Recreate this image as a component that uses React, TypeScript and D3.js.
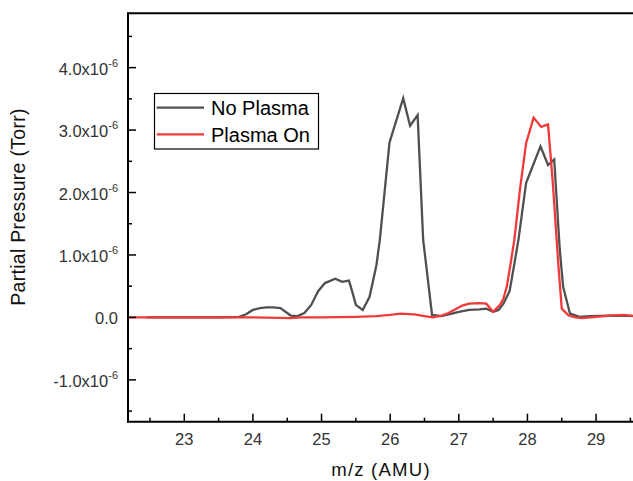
import React from "react";
import * as d3 from "d3";

// Mass-spectrometer partial pressure scans (pressure in units of 1e-6 Torr)
const massNoPlasma = [
  22.45, 23.0, 23.5, 23.8, 23.9, 24.0, 24.1, 24.2, 24.3, 24.4, 24.5, 24.55, 24.65, 24.75, 24.85,
  24.95, 25.05, 25.2, 25.3, 25.4, 25.45, 25.5, 25.6, 25.7, 25.8, 25.85, 25.99, 26.19, 26.29, 26.4,
  26.48, 26.61, 26.75, 26.9, 27.0, 27.15, 27.3, 27.4, 27.5, 27.58, 27.65, 27.74, 27.8, 27.87, 27.98,
  28.19, 28.3, 28.39, 28.47, 28.52, 28.62, 28.76, 28.9, 29.2, 29.7,
];
const pressureNoPlasma = [
  0, 0, 0, 0.01, 0.05, 0.12, 0.15, 0.16, 0.16, 0.15, 0.07, 0.03, 0.02, 0.07, 0.2,
  0.42, 0.55, 0.62, 0.57, 0.59, 0.4, 0.2, 0.12, 0.33, 0.84, 1.25, 2.8, 3.51, 3.07, 3.24,
  1.25, 0.04, 0.02, 0.06, 0.09, 0.12, 0.13, 0.14, 0.09, 0.12, 0.22, 0.42, 0.8, 1.25, 2.15,
  2.74, 2.44, 2.53, 1.1, 0.49, 0.06, 0.01, 0.02, 0.03, 0.02,
];

const massPlasmaOn = [
  22.0, 23.0, 24.0, 24.55, 24.7, 25.0, 25.5, 25.8, 26.0, 26.15, 26.35, 26.5, 26.62, 26.75, 26.85,
  26.95, 27.05, 27.15, 27.3, 27.4, 27.5, 27.6, 27.65, 27.7, 27.76, 27.81, 27.89, 27.98, 28.09, 28.2,
  28.3, 28.37, 28.45, 28.5, 28.6, 28.7, 28.8, 29.0, 29.2, 29.4, 29.7,
];
const pressurePlasmaOn = [
  0, 0, 0, -0.01, 0, 0, 0.01, 0.02, 0.04, 0.06, 0.05, 0.02, 0, 0.03, 0.07,
  0.13, 0.19, 0.22, 0.23, 0.22, 0.09, 0.2, 0.3, 0.5, 0.9, 1.25, 2.04, 2.79, 3.2, 3.05,
  3.09, 2.15, 0.85, 0.14, 0.03, 0, -0.01, 0.01, 0.03, 0.04, 0,
];

const seriesNames = ["No Plasma", "Plasma On"];
const seriesColors = ["#505050", "#f03a3a"];

const xMajorTicks = [23, 24, 25, 26, 27, 28, 29];
const xMinorTicks = [22.5, 23.5, 24.5, 25.5, 26.5, 27.5, 28.5, 29.5];
const yMajorTicks = [-1, 0, 1, 2, 3, 4];
const yMinorTicks = [-1.5, -0.5, 0.5, 1.5, 2.5, 3.5, 4.5];

const W = 633;
const H = 481;
const left = 128;
const top = 13.3;
const bottom = 421.7;
const right = 640;

export default function App() {
  const x = d3.scaleLinear().domain([22.18, 29.64]).range([left, right]);
  const y = d3.scaleLinear().domain([-1.67, 4.87]).range([bottom, top]);

  const line = d3
    .line<[number, number]>()
    .x((d) => x(d[0]))
    .y((d) => y(d[1]));

  const noPlasma = massNoPlasma.map((m, i) => [m, pressureNoPlasma[i]] as [number, number]);
  const plasmaOn = massPlasmaOn.map((m, i) => [m, pressurePlasmaOn[i]] as [number, number]);

  const font = "Arial, 'Liberation Sans', sans-serif";
  const tickColor = "#333";

  const fmtMantissa = (v: number) => (v === 0 ? "0.0" : `${v.toFixed(1)}x10`);

  return (
    <svg
      width={W}
      height={H}
      style={{ position: "absolute", left: 0, top: 0, background: "#fff" }}
      fontFamily={font}
    >
      <defs>
        <clipPath id="plotArea">
          <rect x={left} y={top} width={right - left} height={bottom - top} />
        </clipPath>
      </defs>

      {/* data lines */}
      <g clipPath="url(#plotArea)" fill="none" strokeWidth={2.3} strokeLinejoin="miter">
        <path d={line(noPlasma) || ""} stroke={seriesColors[0]} />
        <path d={line(plasmaOn) || ""} stroke={seriesColors[1]} />
      </g>

      {/* frame */}
      <g stroke="#000" strokeWidth={2} fill="none">
        <line x1={left} y1={top} x2={right} y2={top} />
        <line x1={left} y1={top - 1} x2={left} y2={bottom + 1} />
        <line x1={left - 1} y1={bottom} x2={right} y2={bottom} />
      </g>

      {/* ticks, pointing into the plot */}
      <g stroke="#000" strokeWidth={1.5}>
        {xMajorTicks.map((t) => (
          <line key={`xM${t}`} x1={x(t)} x2={x(t)} y1={bottom} y2={bottom - 8} />
        ))}
        {xMinorTicks.map((t) => (
          <line key={`xm${t}`} x1={x(t)} x2={x(t)} y1={bottom} y2={bottom - 4} />
        ))}
        {yMajorTicks.map((t) => (
          <line key={`yM${t}`} x1={left} x2={left + 8} y1={y(t)} y2={y(t)} />
        ))}
        {yMinorTicks.map((t) => (
          <line key={`ym${t}`} x1={left} x2={left + 4} y1={y(t)} y2={y(t)} />
        ))}
      </g>

      {/* x tick labels */}
      <g fontSize={16.5} fill={tickColor} textAnchor="middle">
        {xMajorTicks.map((t) => (
          <text key={`xl${t}`} x={x(t)} y={445}>
            {t}
          </text>
        ))}
      </g>

      {/* y tick labels */}
      <g fontSize={16.5} fill={tickColor} textAnchor="end">
        {yMajorTicks.map((t) => (
          <text key={`yl${t}`} x={118} y={y(t) + 7}>
            {fmtMantissa(t)}
            {t !== 0 && (
              <tspan fontSize={11} dy={-8}>
                -6
              </tspan>
            )}
          </text>
        ))}
      </g>

      {/* axis titles */}
      <text x={381} y={476} fontSize={18.6} fill="#111" textAnchor="middle" letterSpacing={1.2}>
        m/z (AMU)
      </text>
      <text
        transform={`translate(25,${207}) rotate(-90)`}
        fontSize={19.5}
        fill="#111"
        textAnchor="middle"
        letterSpacing={0.3}
      >
        Partial Pressure (Torr)
      </text>

      {/* legend */}
      <g>
        <rect x={154.5} y={93.5} width={164} height={55.5} fill="#fff" stroke="#000" strokeWidth={1.2} />
        {seriesNames.map((name, i) => {
          const ly = 107.7 + i * 26.6;
          return (
            <g key={name}>
              <line x1={156.7} x2={204} y1={ly} y2={ly} stroke={seriesColors[i]} strokeWidth={2.3} />
              <text x={211} y={ly + 7.3} fontSize={20} fill="#000">
                {name}
              </text>
            </g>
          );
        })}
      </g>
    </svg>
  );
}
